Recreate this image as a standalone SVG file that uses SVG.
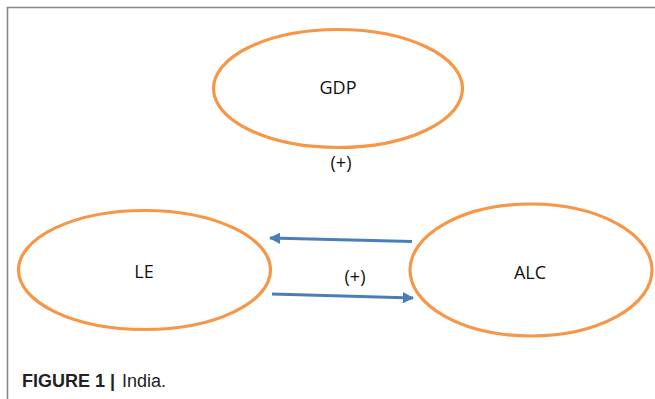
<svg xmlns="http://www.w3.org/2000/svg" width="655" height="399" viewBox="0 0 655 399">
<style>
.node{fill:none;stroke:#F79646;stroke-width:3.2}
.lbl{font-family:"Open Sans","Liberation Sans",sans-serif;font-size:18px;fill:#111;text-anchor:middle}
.edge{stroke:#4A7EBB;stroke-width:3.2;fill:none}
.cap{font-family:"Liberation Sans",Arial,sans-serif;font-size:18px;fill:#222}
</style>
<defs>
<marker id="ah" viewBox="0 0 10 10" refX="9" refY="5" markerWidth="3.6" markerHeight="3.6" orient="auto" markerUnits="strokeWidth">
<path d="M0,0 L10,5 L0,10 Z" fill="#4A7EBB"/>
</marker>
</defs>
<rect width="655" height="399" fill="#fff"/>
<path d="M7.5,399 V7.5 H655" fill="none" stroke="#888" stroke-width="1.6"/>
<g id="GDP">
<ellipse class="node" cx="338" cy="88.5" rx="124.5" ry="59"/>
<text class="lbl" x="338" y="94">GDP</text>
</g>
<g id="LE">
<ellipse class="node" cx="144.5" cy="270" rx="126" ry="59.5"/>
<text class="lbl" x="144" y="278">LE</text>
</g>
<g id="ALC">
<ellipse class="node" cx="531" cy="270" rx="121" ry="66"/>
<text class="lbl" x="530" y="279">ALC</text>
</g>
<g id="connectors">
<line class="edge" x1="412" y1="241.5" x2="270" y2="238" marker-end="url(#ah)"/>
<line class="edge" x1="272" y1="294" x2="413" y2="298" marker-end="url(#ah)"/>
</g>
<text class="lbl" x="341" y="169">(+)</text>
<text class="lbl" x="355" y="283">(+)</text>
<text class="cap" x="22" y="387"><tspan font-weight="bold">FIGURE 1 |</tspan><tspan dx="7">India.</tspan></text>
</svg>
